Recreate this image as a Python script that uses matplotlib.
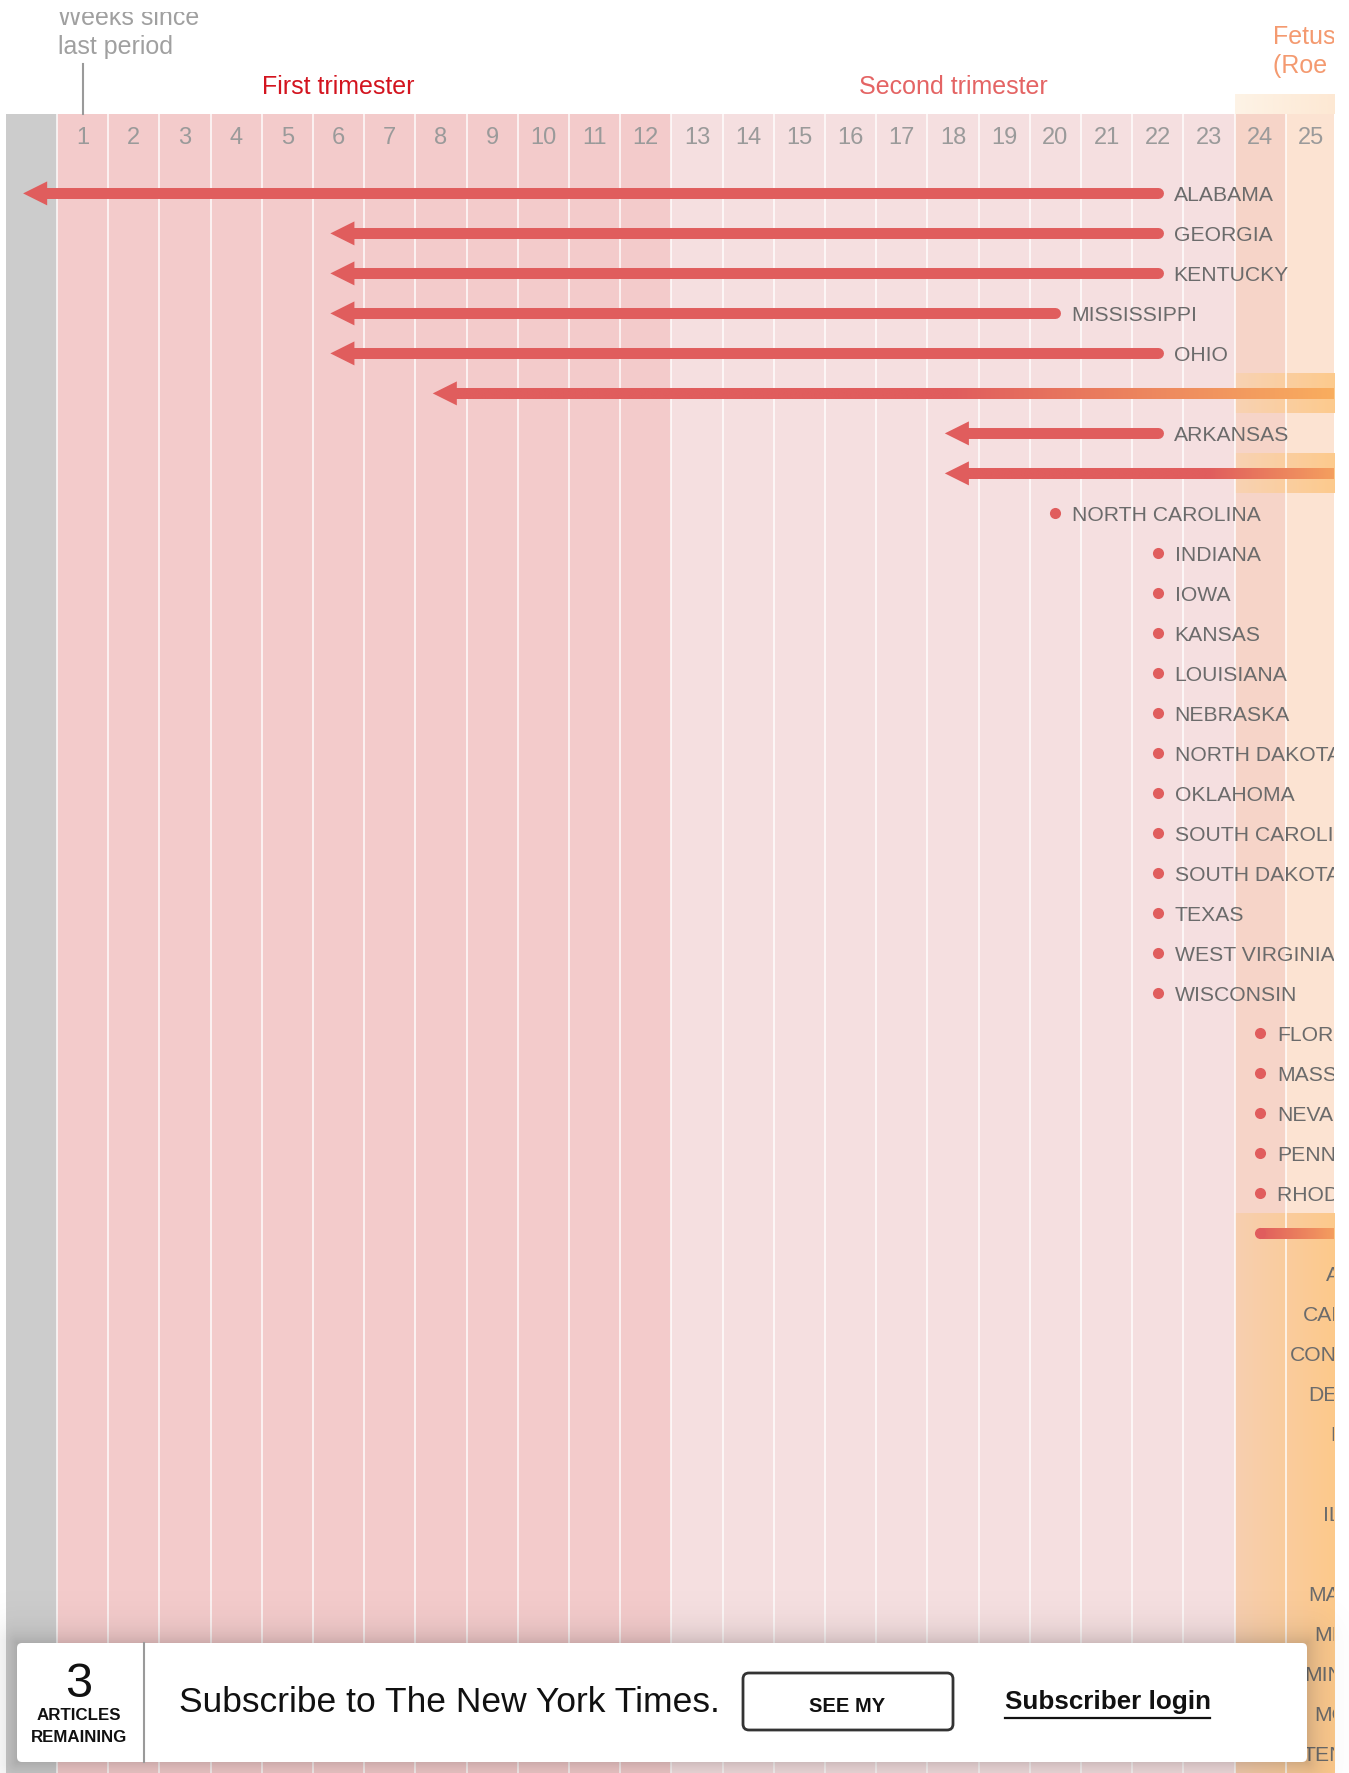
import numpy as np
import matplotlib
matplotlib.use("Agg")
import matplotlib.pyplot as plt
from matplotlib import font_manager
from matplotlib.patches import FancyBboxPatch, Rectangle
from matplotlib.colors import to_rgb

installed = {f.name for f in font_manager.fontManager.ttflist}
FONT = 'Liberation Sans' if 'Liberation Sans' in installed else 'DejaVu Sans'
plt.rcParams['font.family'] = [FONT, 'DejaVu Sans']

# ---- data ----
weeks = list(range(0, 26))          # week 0 = grey column
first_tri = list(range(1, 13))
second_tri = list(range(13, 24))

arrow_states = ['ALABAMA', 'GEORGIA', 'KENTUCKY', 'MISSISSIPPI', 'OHIO',
                'MISSOURI', 'ARKANSAS', 'UTAH']
arrow_from = [22, 22, 22, 20, 22, 27, 22, 27]
arrow_to = [0, 6, 6, 6, 6, 8, 18, 18]
# rows without a fixed earlier limit fade from red to orange (viability)
fade_start = [None, None, None, None, None, 18, None, 23]
fade_end = [None, None, None, None, None, 25.5, None, 26]

dot_states = ['NORTH CAROLINA',
              'INDIANA', 'IOWA', 'KANSAS', 'LOUISIANA', 'NEBRASKA',
              'NORTH DAKOTA', 'OKLAHOMA', 'SOUTH CAROLINA', 'SOUTH DAKOTA',
              'TEXAS', 'WEST VIRGINIA', 'WISCONSIN',
              'FLORIDA', 'MASSACHUSETTS', 'NEVADA', 'PENNSYLVANIA', 'RHODE ISLAND']
dot_weeks = [20] + [22] * 12 + [24] * 5

viability_start = 24
viability_fade_end = 25.8
viability_states = ['ALASKA', 'CALIFORNIA', 'CONNECTICUT', 'DELAWARE', 'HAWAII',
                    'IDAHO', 'ILLINOIS', 'MAINE', 'MARYLAND', 'MICHIGAN',
                    'MINNESOTA', 'MONTANA', 'TENNESSEE']
viability_label_week = 26.08

RED = '#e05d5d'
ORANGE = '#f9ae5f'
LABEL = '#6b6b6b'

# ---- figure ----
W, H = 1349, 1773
fig = plt.figure(figsize=(W / 100, H / 100), dpi=100)
ax = fig.add_axes([5.7 / W, 0, (1334 - 5.7) / W, 1])
ax.axis('off')

band_top, band_bot = -1.985, 40


def hgrad(c0, c1, n=64):
    t = np.linspace(0, 1, n)[:, None]
    return ((1 - t) * np.array(to_rgb(c0)) + t * np.array(to_rgb(c1)))[None, :, :]


# columns
col_colors = []
for w in weeks:
    if w == 0:
        col_colors.append('#cccccc')
    elif w in first_tri:
        col_colors.append('#f3cbcb')
    elif w in second_tri:
        col_colors.append('#f5dfe0')
    elif w == 24:
        col_colors.append('#f6d4c8')
    else:
        col_colors.append('#fce3d2')
ax.bar(weeks, band_bot - band_top, bottom=band_top, width=1.0,
       color=col_colors, linewidth=0, zorder=0)

# orange header strip over weeks 24-25
ax.imshow(hgrad('#fdf3e6', '#fde8d3'), extent=(23.5, 25.5, band_top, band_top - 0.5),
          aspect='auto', zorder=0.5)

# orange bands behind viability rows
for i, fs in enumerate(fade_start):
    if fs is not None:
        ax.imshow(hgrad('#f8d2b3', '#fdca8c'), extent=(23.5, 25.5, i + 0.49, i - 0.49),
                  aspect='auto', zorder=0.5)
via_row = len(arrow_states) + len(dot_states)
ax.imshow(hgrad('#f7cfb0', '#fdc98a'), extent=(23.5, 25.5, band_bot, via_row - 0.5),
          aspect='auto', zorder=0.5)

# column separators
ax.vlines([w + 0.5 for w in weeks[:-1]], band_top, band_bot, color='white',
          lw=1.3, alpha=0.8, zorder=1)

# week numbers
for w in weeks[1:]:
    ax.text(w, -1.235, str(w), ha='center', va='baseline', color='#9a9a9a',
            fontsize=17, clip_on=True)

# header texts
ax.plot([1, 1], [-3.235, band_top], color='#9a9a9a', lw=1.5, zorder=2)
ax.text(0.52, -4.21, 'Weeks since', ha='left', va='baseline', color='#a0a0a0', fontsize=18)
ax.text(0.52, -3.485, 'last period', ha='left', va='baseline', color='#a0a0a0', fontsize=18)
ax.text(6, -2.485, 'First trimester', ha='center', va='baseline',
        color='#d3141f', fontsize=18)
ax.text(18, -2.485, 'Second trimester', ha='center', va='baseline',
        color='#e46464', fontsize=18)
ax.text(24.25, -3.735, 'Fetus viability', ha='left', va='baseline',
        color='#f49a70', fontsize=18, clip_on=True)
ax.text(24.25, -3.01, '(Roe v. Wade)', ha='left', va='baseline',
        color='#f49a70', fontsize=18, clip_on=True)

LW = 7.9          # bar thickness in points
HALF = 0.1375     # half bar thickness in row units
HEAD_LEN, HEAD_H, TIP_OFF = 0.47, 0.30, 0.16


def grad_bar(x0, x1, y, fs, fe):
    xs = np.linspace(x0, x1, 400)
    t = np.clip((xs - fs) / (fe - fs), 0, 1)[:, None]
    cols = (1 - t) * np.array(to_rgb(RED)) + t * np.array(to_rgb(ORANGE))
    ax.imshow(cols[None, :, :], extent=(x0, x1, y + HALF, y - HALF),
              aspect='auto', zorder=3, interpolation='bilinear')


# arrows
for i, (name, a, b) in enumerate(zip(arrow_states, arrow_from, arrow_to)):
    tip = b - TIP_OFF
    base = tip + HEAD_LEN
    if fade_start[i] is None:
        ax.plot([base - 0.05, a], [i, i], color=RED, lw=LW, solid_capstyle='round', zorder=3)
    else:
        grad_bar(base - 0.05, a, i, fade_start[i], fade_end[i])
    ax.fill([tip, base, base], [i, i - HEAD_H, i + HEAD_H], color=RED, lw=0, zorder=3)
    ax.text(a + 0.31, i + 0.19, name, ha='left', va='baseline', color=LABEL,
            fontsize=15.2, clip_on=True)

# dots
r0 = len(arrow_states)
for j, (name, w) in enumerate(zip(dot_states, dot_weeks)):
    r = r0 + j
    ax.scatter([w], [r], s=64, color=RED, linewidths=0, zorder=3)
    ax.text(w + 0.33, r + 0.19, name, ha='left', va='baseline', color=LABEL,
            fontsize=15.2, clip_on=True)

# viability bar and list
grad_bar(viability_start, 26.5, via_row, viability_start, viability_fade_end)
ax.scatter([viability_start], [via_row], s=64, color=RED, linewidths=0, zorder=3)
for k, name in enumerate(viability_states):
    r = via_row + 1 + k
    ax.text(viability_label_week, r + 0.19, name, ha='center', va='baseline',
            color=LABEL, fontsize=15.2, clip_on=True)
ax.set_xlim(-0.5, 25.44)
ax.set_ylim(39.49, -4.835)

# ---- page overlay (sticky header edge + subscription box) ----
ov = fig.add_axes([0, 0, 1, 1], zorder=10)
ov.set_xlim(0, W)
ov.set_ylim(H, 0)
ov.axis('off')
ov.patch.set_alpha(0)
ov.add_patch(Rectangle((0, 0), W, 12, fc='white', ec='none', zorder=0))

bx0, bx1, by0, by1 = 17, 1307, 1643, 1762
yy, xx = np.mgrid[0:H, 0:W] + 0.5
dx = np.maximum(np.maximum(bx0 - xx, xx - bx1), 0)
dy = np.maximum(np.maximum(by0 - yy, yy - by1), 0)
d = np.hypot(dx, dy)
shadow = np.zeros((H, W, 4))
shadow[..., 3] = 0.16 * np.exp(-d / 14.0)
ov.imshow(shadow, extent=(0, W, H, 0), aspect='auto', zorder=0, interpolation='nearest')

ov.add_patch(FancyBboxPatch((bx0, by0), bx1 - bx0, by1 - by0,
                            boxstyle='round,pad=0,rounding_size=5',
                            fc='white', ec='none', zorder=1))
ov.plot([143.6, 143.6], [by0, by1], color='#9a9a9a', lw=1.5, zorder=2)
ov.text(79, 1697, '3', ha='center', va='baseline', fontsize=35, color='#111111', zorder=3)
ov.text(79, 1715, 'ARTICLES', ha='center', va='center', fontsize=12.2, fontweight='bold',
        color='#111111', zorder=3)
ov.text(79, 1738, 'REMAINING', ha='center', va='center', fontsize=12.2, fontweight='bold',
        color='#111111', zorder=3)
ov.text(179, 1703, 'Subscribe to The New York Times.', ha='left', va='center',
        fontsize=25.5, color='#111111', zorder=3)
ov.add_patch(FancyBboxPatch((743, 1673), 210, 57, boxstyle='round,pad=0,rounding_size=6',
                            fc='white', ec='#333333', lw=2, zorder=3))
ov.text(847, 1707, 'SEE MY', ha='center', va='center', fontsize=14.5, fontweight='bold',
        color='#111111', zorder=4)
ov.text(1005, 1702, 'Subscriber login', ha='left', va='center', fontsize=18.7,
        fontweight='bold', color='#111111', zorder=3)
ov.plot([1005, 1210], [1718, 1718], color='#111111', lw=1.6, zorder=3)

fig.savefig('out.png', dpi=100, facecolor='white')
